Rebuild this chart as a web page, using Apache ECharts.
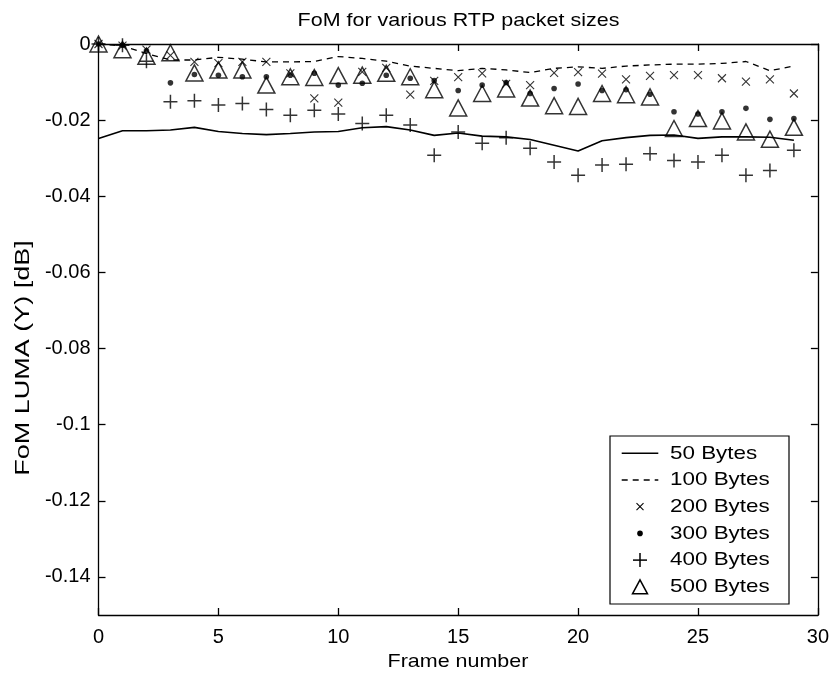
<!DOCTYPE html>
<html>
<head>
<meta charset="utf-8">
<script src="https://cdn.jsdelivr.net/npm/echarts@6/dist/echarts.min.js"></script>
<style>
  html, body { margin: 0; padding: 0; background: #fff; }
  #chart { width: 832px; height: 673px; }
</style>
</head>
<body>
<div id="chart"></div>
<script>
// Frame index along the x axis
const frames = [0, 1, 2, 3, 4, 5, 6, 7, 8, 9, 10, 11, 12, 13, 14, 15, 16, 17, 18, 19, 20, 21, 22, 23, 24, 25, 26, 27, 28, 29];

// FoM LUMA (Y) in dB per RTP packet size
const bytes50 = [-0.0248, -0.0228, -0.0228, -0.0226, -0.0219, -0.0230, -0.0235, -0.0238, -0.0235, -0.0231,
                 -0.0230, -0.0220, -0.0217, -0.0226, -0.0240, -0.0234, -0.0242, -0.0244, -0.0251, -0.0266,
                 -0.0281, -0.0254, -0.0246, -0.0240, -0.0239, -0.0248, -0.0244, -0.0244, -0.0245, -0.0253];
const bytes100 = [0, -0.0005, -0.0025, -0.0042, -0.0042, -0.0035, -0.0040, -0.0047, -0.0047, -0.0046,
                  -0.0033, -0.0038, -0.0045, -0.0058, -0.0064, -0.0070, -0.0064, -0.0068, -0.0075, -0.0064,
                  -0.0060, -0.0064, -0.0058, -0.0055, -0.0053, -0.0053, -0.0051, -0.0046, -0.0070, -0.0058];
const bytes200 = [0, -0.0004, -0.0015, -0.0030, -0.0047, -0.0050, -0.0047, -0.0047, -0.0077, -0.0143,
                  -0.0154, -0.0073, -0.0063, -0.0133, -0.0097, -0.0087, -0.0077, -0.0105, -0.0108, -0.0076,
                  -0.0074, -0.0078, -0.0093, -0.0084, -0.0082, -0.0082, -0.0090, -0.0099, -0.0093, -0.0130];
const bytes300 = [0, -0.0003, -0.0018, -0.0102, -0.0080, -0.0082, -0.0086, -0.0086, -0.0082, -0.0077,
                  -0.0108, -0.0103, -0.0082, -0.0090, -0.0096, -0.0122, -0.0108, -0.0101, -0.0130, -0.0117,
                  -0.0105, -0.0122, -0.0120, -0.0132, -0.0178, -0.0184, -0.0178, -0.0169, -0.0198, -0.0196];
const bytes400 = [0, -0.0003, -0.0045, -0.0152, -0.0149, -0.0160, -0.0156, -0.0172, -0.0187, -0.0174,
                  -0.0184, -0.0209, -0.0187, -0.0213, -0.0292, -0.0231, -0.0261, -0.0246, -0.0274, -0.0310,
                  -0.0345, -0.0318, -0.0316, -0.0288, -0.0306, -0.0310, -0.0292, -0.0345, -0.0332, -0.0279];
const bytes500 = [0, -0.0015, -0.0032, -0.0023, -0.0076, -0.0068, -0.0068, -0.0108, -0.0086, -0.0088,
                  -0.0083, -0.0082, -0.0077, -0.0086, -0.0120, -0.0168, -0.0130, -0.0118, -0.0142, -0.0162,
                  -0.0164, -0.0130, -0.0133, -0.0139, -0.0222, -0.0196, -0.0202, -0.0231, -0.0250, -0.0219];

const seriesNames = ['50 Bytes', '100 Bytes', '200 Bytes', '300 Bytes', '400 Bytes', '500 Bytes'];
const yTicks = [0, -0.02, -0.04, -0.06, -0.08, -0.1, -0.12, -0.14];

const FONT = 'Liberation Sans, Arial, Helvetica, sans-serif';

// Marker shapes drawn in a 20x20 box (the two leading moves pin the box size)
const crossPath = 'path://M0,0M20,20M6,6L14,14M14,6L6,14';
const dotPath = 'path://M0,0M20,20M12.8,10A2.8,2.8,0,1,1,7.2,10A2.8,2.8,0,1,1,12.8,10Z';
const plusPath = 'path://M0,0M20,20M3,10L17,10M10,3L10,17';
const triPath = 'path://M0,0M20,20M10,2L18.5,18L1.5,18Z';

const pairs = vals => frames.map((f, i) => [f, vals[i]]);
const fmtY = v => String(+(+v).toFixed(2));

const axisLineStyle = { color: '#000', width: 1.3 };
const tickStyle = { show: true, inside: true, length: 7, lineStyle: { color: '#000', width: 1.3 } };
const labelStyle = { color: '#000', fontFamily: FONT, fontSize: 20 };

// Text drawn slightly wider than tall, as in the MATLAB export
function label(text, x, y, size, sx, sy, rot, align) {
  return {
    type: 'text', x: x, y: y, rotation: rot || 0, scaleX: sx, scaleY: sy,
    style: { text: text, fill: '#000', font: size + 'px ' + FONT, align: align || 'center', verticalAlign: 'middle' }
  };
}

// Boxed key in the lower right corner of the axes
function legendBox() {
  const bx = 610, by = 436, bw = 179, bh = 168;
  const row0 = 453.3, rowStep = 26.7, cx = 640, lx1 = 621.7, lx2 = 658.3, tx = 670;
  const els = [{
    type: 'rect', shape: { x: bx, y: by, width: bw, height: bh },
    style: { fill: '#fff', stroke: '#000', lineWidth: 1.2 }
  }];
  seriesNames.forEach((name, i) => {
    const y = row0 + rowStep * i;
    if (i === 0) {
      els.push({ type: 'line', shape: { x1: lx1, y1: y, x2: lx2, y2: y }, style: { stroke: '#000', lineWidth: 1.5 } });
    } else if (i === 1) {
      els.push({ type: 'line', shape: { x1: lx1, y1: y, x2: lx2, y2: y }, style: { stroke: '#000', lineWidth: 1.3, lineDash: [6, 5] } });
    } else if (i === 2) {
      els.push({ type: 'line', shape: { x1: cx - 3.5, y1: y - 3.5, x2: cx + 3.5, y2: y + 3.5 }, style: { stroke: '#000', lineWidth: 1.1 } });
      els.push({ type: 'line', shape: { x1: cx + 3.5, y1: y - 3.5, x2: cx - 3.5, y2: y + 3.5 }, style: { stroke: '#000', lineWidth: 1.1 } });
    } else if (i === 3) {
      els.push({ type: 'circle', shape: { cx: cx, cy: y, r: 2.8 }, style: { fill: '#000' } });
    } else if (i === 4) {
      els.push({ type: 'line', shape: { x1: cx - 7, y1: y, x2: cx + 7, y2: y }, style: { stroke: '#000', lineWidth: 1.5 } });
      els.push({ type: 'line', shape: { x1: cx, y1: y - 7, x2: cx, y2: y + 7 }, style: { stroke: '#000', lineWidth: 1.5 } });
    } else {
      els.push({ type: 'polygon', shape: { points: [[cx, y - 7], [cx + 7.5, y + 7], [cx - 7.5, y + 7]] }, style: { fill: 'none', stroke: '#000', lineWidth: 1.5 } });
    }
    els.push(label(name, tx, y, 19, 1.18, 1, 0, 'left'));
  });
  return els;
}

const chart = echarts.init(document.getElementById('chart'), null, { renderer: 'canvas' });

chart.setOption({
  animation: false,
  backgroundColor: '#fff',
  grid: { left: 98.5, right: 13.5, top: 44, bottom: 58, containLabel: false },
  xAxis: [
    {
      type: 'value', min: 0, max: 30, interval: 5, position: 'bottom',
      axisLine: { show: true, onZero: false, lineStyle: axisLineStyle },
      axisTick: tickStyle,
      axisLabel: Object.assign({ margin: 12 }, labelStyle),
      splitLine: { show: false }
    },
    {
      type: 'value', min: 0, max: 30, interval: 5, position: 'top',
      axisLine: { show: true, onZero: false, lineStyle: axisLineStyle },
      axisTick: tickStyle,
      axisLabel: { show: false },
      splitLine: { show: false }
    }
  ],
  yAxis: [
    {
      type: 'value', min: -0.15, max: 0, position: 'left',
      axisLine: { show: true, onZero: false, lineStyle: axisLineStyle },
      axisTick: Object.assign({ customValues: yTicks }, tickStyle),
      axisLabel: Object.assign({ customValues: yTicks, margin: 8, formatter: fmtY }, labelStyle),
      splitLine: { show: false }
    },
    {
      type: 'value', min: -0.15, max: 0, position: 'right',
      axisLine: { show: true, onZero: false, lineStyle: axisLineStyle },
      axisTick: Object.assign({ customValues: yTicks }, tickStyle),
      axisLabel: { show: false, customValues: yTicks },
      splitLine: { show: false }
    }
  ],
  graphic: [
    label('FoM for various RTP packet sizes', 458.5, 20.5, 19, 1.13, 1, 0),
    label('Frame number', 458, 662, 19, 1.13, 1, 0),
    label('FoM LUMA (Y) [dB]', 23, 358, 20, 1.35, 1, Math.PI / 2),
    { type: 'group', z: 100, children: legendBox() }
  ],
  series: [
    {
      name: seriesNames[0], type: 'line', data: pairs(bytes50),
      symbol: 'none', lineStyle: { color: '#000', width: 1.6 }, itemStyle: { color: '#000' }, z: 2
    },
    {
      name: seriesNames[1], type: 'line', data: pairs(bytes100),
      symbol: 'none', lineStyle: { color: '#000', width: 1.3, type: [6, 5] }, itemStyle: { color: '#000' }, z: 2
    },
    {
      name: seriesNames[2], type: 'scatter', data: pairs(bytes200),
      symbol: crossPath, symbolSize: 20,
      itemStyle: { color: 'none', borderColor: '#000', borderWidth: 1.1 }, z: 3
    },
    {
      name: seriesNames[3], type: 'scatter', data: pairs(bytes300),
      symbol: dotPath, symbolSize: 20,
      itemStyle: { color: '#000', borderWidth: 0 }, z: 4
    },
    {
      name: seriesNames[4], type: 'scatter', data: pairs(bytes400),
      symbol: plusPath, symbolSize: 20,
      itemStyle: { color: 'none', borderColor: '#000', borderWidth: 1.5 }, z: 5
    },
    {
      name: seriesNames[5], type: 'scatter', data: pairs(bytes500),
      symbol: triPath, symbolSize: 20,
      itemStyle: { color: 'none', borderColor: '#000', borderWidth: 1.5 }, z: 6
    }
  ]
});
</script>
</body>
</html>
